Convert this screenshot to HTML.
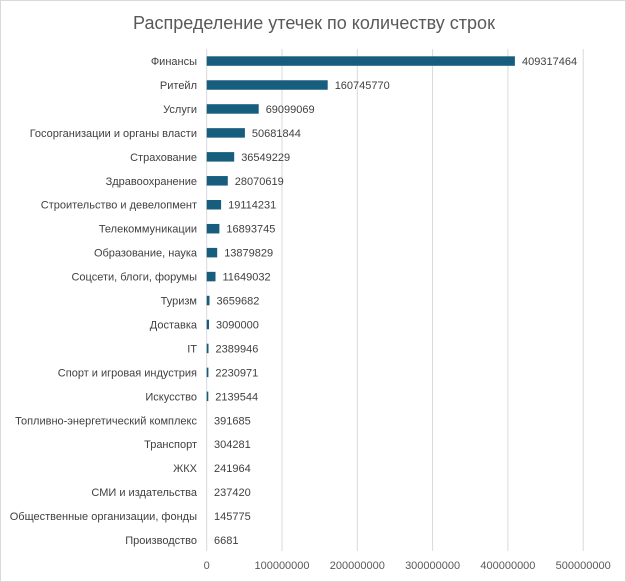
<!DOCTYPE html>
<html><head><meta charset="utf-8"><style>body{margin:0;background:#fff}svg{display:block}</style></head><body>
<svg width="626" height="582" xmlns="http://www.w3.org/2000/svg" font-family="Liberation Sans, sans-serif">
<rect x="0.5" y="0.5" width="625" height="581" fill="#fff" stroke="#d9d9d9"/>
<text x="314" y="29" text-anchor="middle" font-size="18" fill="#595959">Распределение утечек по количеству строк</text>
<g stroke="#d9d9d9" stroke-width="1">
<line x1="206.7" y1="49" x2="206.7" y2="551"/><line x1="282" y1="49" x2="282" y2="551"/><line x1="357.3" y1="49" x2="357.3" y2="551"/><line x1="432.6" y1="49" x2="432.6" y2="551"/><line x1="507.9" y1="49" x2="507.9" y2="551"/><line x1="583.2" y1="49" x2="583.2" y2="551"/>
</g>
<g font-size="11" fill="#595959" text-anchor="middle">
<text x="206.7" y="569">0</text><text x="282" y="569">100000000</text><text x="357.3" y="569">200000000</text><text x="432.6" y="569">300000000</text><text x="507.9" y="569">400000000</text><text x="583.2" y="569">500000000</text>
</g>
<g fill="#175e7e">
<rect x="206.7" y="56.3" width="308.2" height="9.5"/>
<rect x="206.7" y="80.25" width="121" height="9.5"/>
<rect x="206.7" y="104.2" width="52" height="9.5"/>
<rect x="206.7" y="128.15" width="38.2" height="9.5"/>
<rect x="206.7" y="152.1" width="27.5" height="9.5"/>
<rect x="206.7" y="176.05" width="21.1" height="9.5"/>
<rect x="206.7" y="200" width="14.4" height="9.5"/>
<rect x="206.7" y="223.95" width="12.7" height="9.5"/>
<rect x="206.7" y="247.9" width="10.5" height="9.5"/>
<rect x="206.7" y="271.85" width="8.8" height="9.5"/>
<rect x="206.7" y="295.8" width="2.8" height="9.5"/>
<rect x="206.7" y="319.75" width="2.3" height="9.5"/>
<rect x="206.7" y="343.7" width="1.8" height="9.5"/>
<rect x="206.7" y="367.65" width="1.7" height="9.5"/>
<rect x="206.7" y="391.6" width="1.6" height="9.5"/>
</g>
<g font-size="11" fill="#404040" text-anchor="end">
<text x="197" y="65">Финансы</text>
<text x="197" y="88.95">Ритейл</text>
<text x="197" y="112.9">Услуги</text>
<text x="197" y="136.85">Госорганизации и органы власти</text>
<text x="197" y="160.8">Страхование</text>
<text x="197" y="184.75">Здравоохранение</text>
<text x="197" y="208.7">Строительство и девелопмент</text>
<text x="197" y="232.65">Телекоммуникации</text>
<text x="197" y="256.6">Образование, наука</text>
<text x="197" y="280.55">Соцсети, блоги, форумы</text>
<text x="197" y="304.5">Туризм</text>
<text x="197" y="328.45">Доставка</text>
<text x="197" y="352.4">IT</text>
<text x="197" y="376.35">Спорт и игровая индустрия</text>
<text x="197" y="400.3">Искусство</text>
<text x="197" y="424.25">Топливно-энергетический комплекс</text>
<text x="197" y="448.2">Транспорт</text>
<text x="197" y="472.15">ЖКХ</text>
<text x="197" y="496.1">СМИ и издательства</text>
<text x="197" y="520.05">Общественные организации, фонды</text>
<text x="197" y="544">Производство</text>
</g>
<g font-size="11" fill="#404040">
<text x="522" y="65">409317464</text>
<text x="334.7" y="88.95">160745770</text>
<text x="265.7" y="112.9">69099069</text>
<text x="251.9" y="136.85">50681844</text>
<text x="241.2" y="160.8">36549229</text>
<text x="234.8" y="184.75">28070619</text>
<text x="228.1" y="208.7">19114231</text>
<text x="226.4" y="232.65">16893745</text>
<text x="224.2" y="256.6">13879829</text>
<text x="222.5" y="280.55">11649032</text>
<text x="216.5" y="304.5">3659682</text>
<text x="216" y="328.45">3090000</text>
<text x="215.5" y="352.4">2389946</text>
<text x="215.4" y="376.35">2230971</text>
<text x="215.3" y="400.3">2139544</text>
<text x="214" y="424.25">391685</text>
<text x="214" y="448.2">304281</text>
<text x="214" y="472.15">241964</text>
<text x="214" y="496.1">237420</text>
<text x="214" y="520.05">145775</text>
<text x="214" y="544">6681</text>
</g>
</svg>
</body></html>
